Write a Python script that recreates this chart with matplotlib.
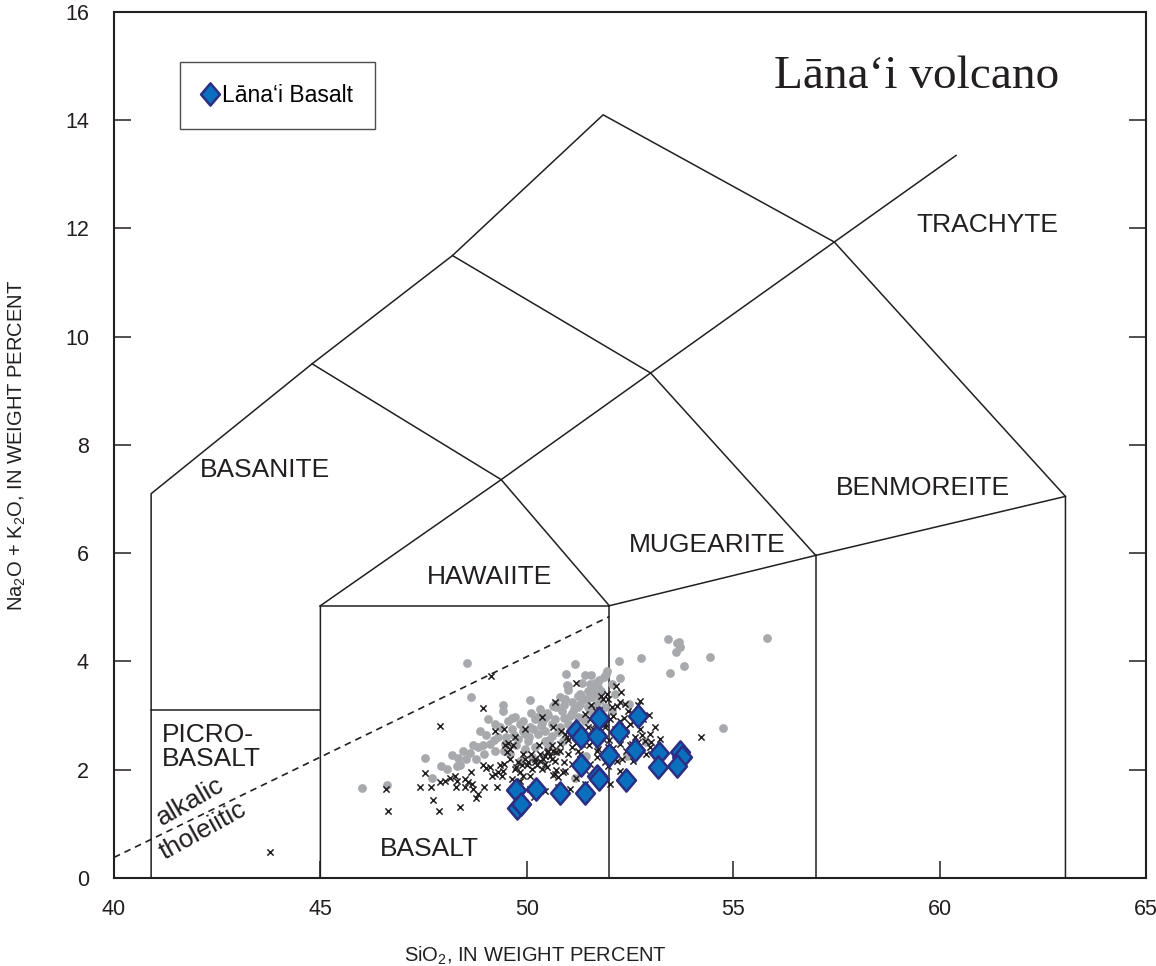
import matplotlib
matplotlib.use("Agg")
import matplotlib.pyplot as plt
from matplotlib.path import Path

plt.rcParams['font.family'] = ['Liberation Sans', 'DejaVu Sans']
plt.rcParams['mathtext.fontset'] = 'custom'
plt.rcParams['mathtext.rm'] = 'Liberation Sans'
plt.rcParams['mathtext.it'] = 'Liberation Sans:italic'

INK = '#231f20'

# TAS field boundaries (SiO2, Na2O+K2O)
field_lines = [
    [(40.9, 0), (40.9, 7.1), (44.8, 9.5), (48.2, 11.5), (51.85, 14.1),
     (57.45, 11.75), (63.05, 7.05), (63.05, 0)],
    [(40.9, 3.1), (45.0, 3.1)],
    [(45.0, 0), (45.0, 5.03), (49.38, 7.36), (53.0, 9.33), (57.45, 11.75), (60.4, 13.35)],
    [(45.0, 5.03), (52.0, 5.03), (52.0, 0)],
    [(52.0, 5.03), (57.0, 5.96), (63.05, 7.05)],
    [(57.0, 5.96), (57.0, -0.05)],
    [(44.8, 9.5), (49.38, 7.36), (52.0, 5.03)],
    [(48.2, 11.5), (53.0, 9.33), (57.0, 5.96)],
]
# alkalic / tholeiitic divide
divide_x = [40.0, 52.0]
divide_y = [0.38, 4.83]

field_names = ['TRACHYTE', 'BENMOREITE', 'MUGEARITE', 'HAWAIITE', 'BASANITE', 'BASALT']
field_x = [61.15, 59.6, 54.37, 49.11, 43.66, 47.65]
field_y = [12.06, 7.2, 6.16, 5.57, 7.53, 0.54]

# other Hawaiian lavas (grey dots)
grey_sio2 = [46.02, 46.61, 47.53, 47.70, 47.92, 48.18, 48.30, 48.38, 48.56, 48.65,
             49.43, 50.09, 50.64, 50.94, 51.17, 51.42, 50.97, 51.01, 51.24, 51.95,
             51.93, 51.87, 52.24, 52.26, 52.14, 52.48, 52.77, 52.90, 52.42, 51.43,
             51.17, 53.41, 53.63, 53.69, 53.72, 53.61, 53.46, 53.80, 54.44, 55.82,
             54.75, 51.53, 51.60, 51.68, 51.48, 51.58, 51.72, 51.39, 51.77, 51.29,
             51.48, 51.68, 51.14, 51.05, 50.85, 50.68, 50.51, 50.37, 50.20, 50.08,
             50.44, 50.27, 50.61, 50.80, 49.96, 49.79, 50.03, 49.64, 49.47, 49.30,
             49.11, 49.23, 48.96, 48.82, 49.01, 48.77, 48.62, 48.53, 49.35, 49.54,
             49.71, 49.84, 50.44, 50.20, 49.96, 49.59, 50.32, 50.68, 50.93, 49.42,
             49.06, 48.87, 49.23, 50.51, 50.88, 50.73, 50.13, 49.84, 51.24, 51.41,
             51.09, 52.06, 51.72, 51.89, 51.53, 52.06, 48.33, 48.07,
             50.50, 50.70, 50.90, 51.10, 51.30, 51.50, 51.10, 50.90, 50.60, 50.35,
             50.15, 49.90, 49.70, 49.50, 49.90, 50.10, 50.30, 50.55, 50.75, 51.00,
             51.25, 51.45, 51.65, 51.80, 51.60, 51.35, 50.45, 50.05, 49.75, 49.45,
             49.20, 48.95, 48.70, 48.45, 49.65, 50.80, 51.00, 51.35, 51.55, 51.75]
grey_alk = [1.66, 1.71, 2.21, 1.85, 2.07, 2.27, 2.06, 2.08, 3.98, 3.35,
            3.20, 3.29, 3.18, 3.77, 3.96, 3.75, 3.56, 3.48, 3.36, 3.82,
            3.77, 3.71, 4.00, 3.69, 3.40, 3.22, 4.07, 2.51, 2.26, 2.26,
            1.84, 4.42, 4.34, 4.36, 4.26, 4.17, 3.79, 3.92, 4.08, 4.44,
            2.77, 3.59, 3.50, 3.42, 3.46, 3.35, 3.53, 3.31, 3.29, 3.22,
            3.16, 3.20, 3.13, 3.00, 3.09, 2.94, 3.02, 2.87, 2.94, 2.79,
            2.72, 2.66, 2.63, 2.79, 2.66, 2.57, 2.53, 2.76, 2.48, 2.61,
            2.48, 2.35, 2.29, 2.42, 2.65, 2.20, 2.31, 2.20, 2.79, 2.90,
            2.98, 2.85, 2.53, 2.42, 2.39, 2.29, 3.13, 3.22, 3.31, 3.09,
            2.94, 2.72, 2.85, 2.42, 2.53, 2.35, 2.24, 2.16, 2.98, 2.90,
            2.79, 3.09, 3.03, 3.16, 3.09, 3.59, 2.22, 2.02,
            3.05, 3.15, 3.20, 3.25, 3.40, 3.45, 3.05, 2.95, 2.85, 2.80,
            2.75, 2.72, 2.65, 2.60, 2.90, 3.05, 3.00, 2.55, 2.70, 2.85,
            3.15, 3.30, 3.60, 3.45, 3.15, 2.95, 2.95, 2.60, 2.45, 2.35,
            2.55, 2.45, 2.45, 2.35, 2.95, 3.35, 3.55, 3.60, 3.75, 3.65]

# other Hawaiian lavas (crosses)
cross_sio2 = [43.78, 46.58, 46.65, 47.41, 47.68, 47.53, 47.72, 47.88, 47.91, 47.90,
              48.02, 48.14, 48.26, 48.30, 48.28, 48.38, 48.50, 48.58, 48.67, 48.70,
              48.77, 48.65, 48.97, 49.29, 49.13, 48.95, 49.23, 49.45, 48.95, 49.01,
              49.11, 49.15, 49.23, 49.31, 49.35, 49.39, 49.43, 49.47, 49.51, 49.55,
              49.59, 49.67, 49.71, 49.75, 49.79, 49.84, 49.88, 49.92, 49.96, 50.00,
              50.04, 50.12, 50.20, 50.24, 50.32, 50.36, 50.40, 50.44, 50.48, 50.56,
              50.60, 50.64, 50.68, 50.72, 50.68, 50.64, 51.19, 51.80, 51.85, 52.28,
              52.26, 52.19, 52.69, 52.97, 54.23, 52.19, 50.64, 50.76, 50.88, 50.93,
              51.19, 50.84, 50.93, 50.97, 51.41, 51.53, 51.65, 51.77, 51.89, 52.02,
              52.14, 52.26, 52.38, 52.50, 52.62, 52.74, 52.86, 52.98, 51.48, 51.60,
              51.72, 51.85, 51.97, 52.06, 52.26, 52.40, 52.55, 52.69, 51.34, 51.24,
              51.09, 51.00, 51.29, 51.53, 51.70, 51.89, 51.48, 51.68, 52.06, 52.45,
              52.81, 53.11, 52.38, 51.97, 51.17, 50.80, 50.51, 50.32, 50.20, 50.44,
              50.68, 50.37, 50.08, 49.84, 49.64, 52.98, 53.23, 52.57, 52.74, 51.72,
              52.26, 52.02, 51.41, 51.05, 50.76, 50.44, 50.08, 50.17, 49.96, 49.71,
              48.50, 48.82, 51.97,
              51.00, 51.20, 51.40, 51.60, 51.80, 52.00, 52.20, 52.40, 52.60, 52.80,
              53.00, 51.30, 51.50, 51.70, 51.90, 52.10, 52.30, 52.50, 52.70, 52.90,
              50.80, 50.90, 50.60, 50.30, 50.10, 49.90, 50.50, 51.10, 51.40, 51.90,
              52.10, 52.35, 52.55, 51.75, 51.55, 51.95, 52.15, 50.70, 49.60, 49.45]
cross_alk = [0.48, 1.65, 1.24, 1.69, 1.68, 1.94, 1.44, 1.23, 2.81, 1.77,
             1.80, 1.84, 1.89, 1.80, 1.68, 1.32, 1.83, 1.77, 1.74, 1.65,
             1.47, 1.96, 1.68, 1.69, 3.74, 3.14, 2.71, 2.76, 2.09, 2.03,
             2.05, 1.89, 1.92, 1.95, 2.08, 1.89, 1.98, 2.45, 2.33, 2.50,
             2.39, 2.45, 2.02, 2.05, 2.14, 1.96, 2.08, 1.89, 2.20, 2.08,
             2.14, 2.02, 2.14, 2.08, 2.17, 2.97, 2.20, 2.26, 2.33, 2.26,
             2.20, 2.35, 3.25, 2.33, 1.92, 2.79, 3.61, 3.37, 3.31, 3.44,
             3.25, 3.18, 3.20, 3.02, 2.60, 2.17, 1.91, 1.86, 1.96, 1.98,
             1.84, 2.72, 2.66, 2.60, 3.03, 2.94, 2.85, 2.98, 2.79, 2.94,
             2.76, 2.90, 2.66, 2.85, 2.61, 2.76, 2.53, 2.66, 2.66, 2.53,
             2.39, 2.57, 2.42, 2.29, 2.48, 2.35, 2.48, 2.35, 2.48, 2.35,
             2.42, 2.29, 2.20, 2.11, 2.24, 2.15, 2.79, 3.09, 3.16, 3.09,
             2.94, 2.79, 3.22, 3.31, 2.61, 2.48, 2.35, 2.29, 2.20, 2.11,
             2.16, 2.02, 1.89, 1.79, 1.83, 2.42, 2.57, 2.16, 3.27, 1.92,
             1.98, 1.74, 1.74, 1.65, 1.68, 1.61, 1.65, 1.50, 2.76, 2.61,
             1.68, 1.55, 2.07,
             2.55, 2.50, 2.60, 2.75, 2.65, 2.55, 2.62, 2.78, 2.90, 2.65,
             2.52, 2.30, 2.45, 2.35, 2.25, 2.40, 2.20, 2.45, 2.52, 2.30,
             2.35, 2.15, 2.45, 2.45, 2.30, 2.30, 2.05, 2.10, 2.00, 2.85,
             3.00, 2.95, 3.05, 3.10, 3.20, 3.40, 3.55, 2.00, 2.20, 2.10]

# Lāna‘i Basalt samples
lanai_sio2 = [49.74, 49.76, 49.86, 50.22, 50.80, 51.41, 51.31, 51.70, 51.75, 52.40,
              51.19, 51.31, 51.70, 51.75, 51.99, 52.23, 52.69, 52.62, 53.20, 53.18,
              53.71, 53.76, 53.64]
lanai_alk = [1.63, 1.29, 1.37, 1.65, 1.57, 1.57, 2.09, 1.89, 1.83, 1.81,
             2.72, 2.61, 2.63, 2.96, 2.28, 2.70, 3.00, 2.37, 2.31, 2.05,
             2.33, 2.24, 2.07]

diamond = Path([(0, 1), (0.85, 0), (0, -1), (-0.85, 0), (0, 1)],
               [Path.MOVETO, Path.LINETO, Path.LINETO, Path.LINETO, Path.CLOSEPOLY])

fig = plt.figure(figsize=(11.56, 9.66), dpi=100)
ax = fig.add_axes([0.0986, 0.0911, 0.8927, 0.8965])

for line in field_lines:
    xs, ys = zip(*line)
    ax.plot(xs, ys, color=INK, lw=1.1, solid_joinstyle='miter', zorder=2)
ax.plot(divide_x, divide_y, color=INK, lw=1.2, dashes=(4, 3), zorder=2)

ax.scatter(grey_sio2, grey_alk, s=40, color='#a7a9ac', linewidths=0, zorder=3)
ax.scatter(cross_sio2, cross_alk, s=20, marker='x', color=INK, linewidths=1.1, zorder=4)
ax.plot(lanai_sio2, lanai_alk, linestyle='none', marker=diamond, markersize=16,
        markerfacecolor='#0a6fbd', markeredgecolor='#2b2e83', markeredgewidth=1.8,
        label='Lāna‘i Basalt', zorder=5)

for name, fx, fy in zip(field_names, field_x, field_y):
    ax.text(fx, fy, name, fontsize=19, color=INK, ha='center', va='center', zorder=6)
ax.text(41.15, 2.42, 'PICRO-\nBASALT', fontsize=19, color=INK, ha='left', va='center',
        linespacing=1.05, zorder=6)
ax.text(41.84, 1.41, 'alkalic', fontsize=19, color=INK, ha='center', va='center',
        rotation=30, rotation_mode='anchor', zorder=6)
ax.text(42.16, 0.87, 'tholeiitic', fontsize=19, color=INK, ha='center', va='center',
        rotation=29, rotation_mode='anchor', zorder=6)

ax.text(62.9, 14.6, 'Lāna‘i volcano', fontsize=34, color=INK, ha='right',
        va='baseline', family=['Liberation Serif', 'DejaVu Serif'], zorder=6)

ax.set_xlim(40, 65)
ax.set_ylim(0, 16)
ax.set_xticks([40, 45, 50, 55, 60, 65])
ax.set_yticks(range(0, 17, 2))
ax.tick_params(direction='in', length=12, width=1.1, color=INK, labelsize=15.5,
               labelcolor=INK)
ax.tick_params(axis='y', right=True, pad=18)
ax.tick_params(axis='x', pad=15)
for sp in ax.spines.values():
    sp.set_linewidth(1.5)
    sp.set_color(INK)

ax.set_xlabel('SiO$_2$, IN WEIGHT PERCENT', fontsize=14.5, color=INK)
ax.set_ylabel('Na$_2$O + K$_2$O, IN WEIGHT PERCENT', fontsize=14.5, color=INK)
ax.xaxis.set_label_coords(0.408, -0.077)
ax.yaxis.set_label_coords(-0.083, 0.5)

leg = ax.legend(loc='upper left', bbox_to_anchor=(0.064, 0.942), borderaxespad=0,
                fontsize=16.5, frameon=True, fancybox=False, borderpad=0.95,
                handlelength=0.7, handletextpad=0.2, markerscale=1.0)
leg.get_frame().set_edgecolor(INK)
leg.get_frame().set_linewidth(1.0)

fig.savefig('out.png', dpi=100, facecolor='white')
